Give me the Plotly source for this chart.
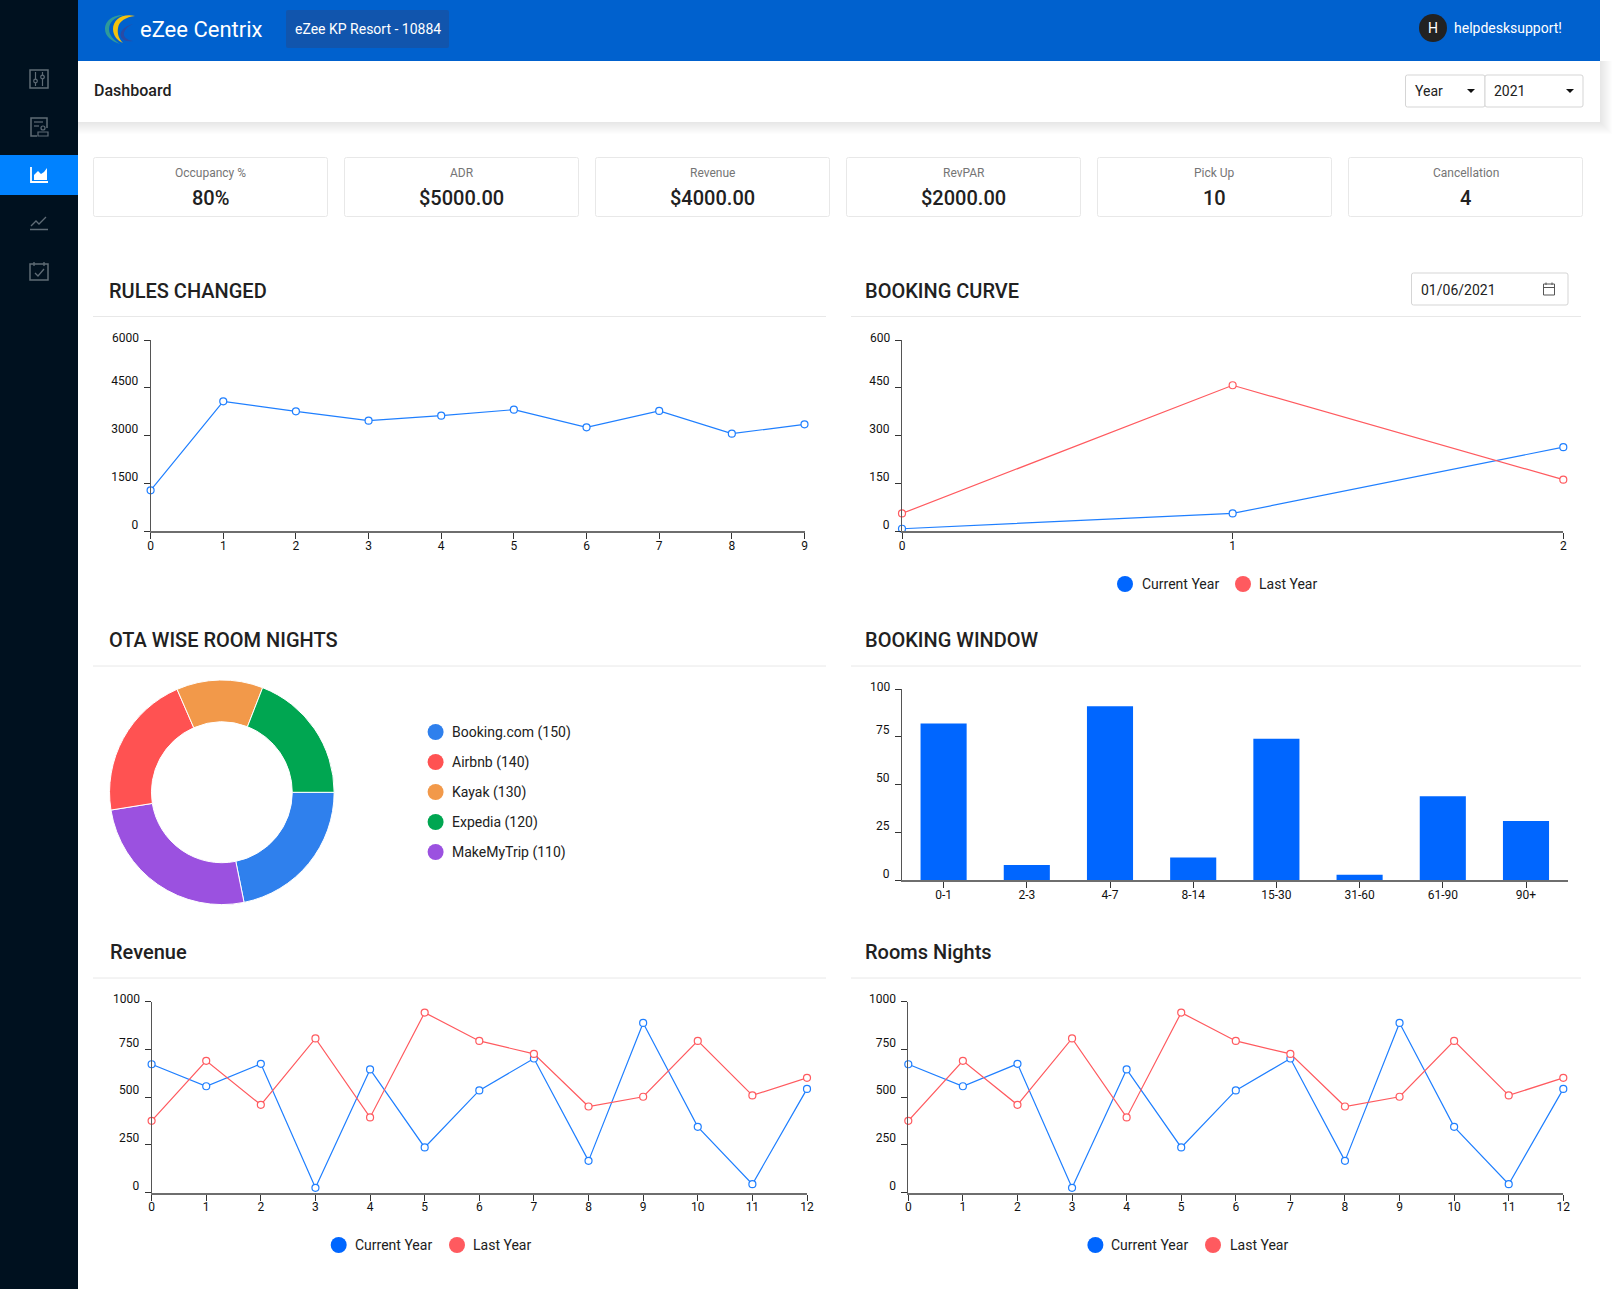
import plotly.graph_objects as go

W = 1612
H = 1289

# chart data
rules_x = [0, 1, 2, 3, 4, 5, 6, 7, 8, 9]
rules_y = [1286, 4077, 3763, 3470, 3627, 3815, 3261, 3774, 3063, 3355]
rules_ticks = [0, 1500, 3000, 4500, 6000]

curve_x = [0, 1, 2]
curve_current = [8, 56, 264]
curve_last = [56, 458, 162]
curve_ticks = [0, 150, 300, 450, 600]

ota_slices = ['Booking.com', 'MakeMyTrip', 'Airbnb', 'Kayak', 'Expedia']
ota_shares = [78.6, 92.3, 75.6, 44.8, 68.7]
ota_slice_colors = ['#2F80ED', '#9B51E0', '#FF5252', '#F2994A', '#00A651']
ota_legend = ['Booking.com (150)', 'Airbnb (140)', 'Kayak (130)', 'Expedia (120)', 'MakeMyTrip (110)']
ota_legend_colors = ['#2F80ED', '#FF5252', '#F2994A', '#00A651', '#9B51E0']

window_cats = ['0-1', '2-3', '4-7', '8-14', '15-30', '31-60', '61-90', '90+']
window_vals = [82, 8, 91, 12, 74, 3, 44, 31]
window_ticks = [0, 25, 50, 75, 100]

months = [0, 1, 2, 3, 4, 5, 6, 7, 8, 9, 10, 11, 12]
revenue_current = [672, 557, 674, 26, 645, 237, 535, 702, 167, 888, 345, 45, 543]
revenue_last = [376, 690, 460, 807, 394, 942, 794, 726, 451, 502, 794, 509, 601]
nights_current = [672, 557, 674, 26, 645, 237, 535, 702, 167, 888, 345, 45, 543]
nights_last = [376, 690, 460, 807, 394, 942, 794, 726, 451, 502, 794, 509, 601]
month_ticks = [0, 250, 500, 750, 1000]

card_labels = ['Occupancy %', 'ADR', 'Revenue', 'RevPAR', 'Pick Up', 'Cancellation']
card_values = ['80%', '$5000.00', '$4000.00', '$2000.00', '10', '4']

BLUE = '#1F7FFF'
RED = '#FF5A5F'
TEXT = '#212121'
ICON = '#5F6C76'
FONT = 'Roboto'

shapes = []
annotations = []
traces = []
axes = {}


def rect(x0, y0, x1, y1, fill=None, line=None, lw=1, **kw):
    shapes.append(dict(type='rect', xref='x7', yref='y7', x0=x0, y0=y0, x1=x1, y1=y1,
                       fillcolor=fill or 'rgba(0,0,0,0)', line=dict(color=line or 'rgba(0,0,0,0)', width=lw if line else 0), **kw))


def round_rect(x0, y0, x1, y1, r=2, fill='#ffffff', line='#E8E8E8', lw=1):
    p = (f'M {x0+r},{y0} L {x1-r},{y0} Q {x1},{y0} {x1},{y0+r} L {x1},{y1-r} Q {x1},{y1} {x1-r},{y1} '
         f'L {x0+r},{y1} Q {x0},{y1} {x0},{y1-r} L {x0},{y0+r} Q {x0},{y0} {x0+r},{y0} Z')
    path(p, fill=fill, line=line, lw=lw)


def path(p, fill=None, line=None, lw=1):
    shapes.append(dict(type='path', xref='x7', yref='y7', path=p, fillcolor=fill or 'rgba(0,0,0,0)',
                       line=dict(color=line or 'rgba(0,0,0,0)', width=lw if line else 0)))


def seg(x0, y0, x1, y1, color, lw=1):
    shapes.append(dict(type='line', xref='x7', yref='y7', x0=x0, y0=y0, x1=x1, y1=y1, line=dict(color=color, width=lw)))


def dot(cx, cy, r, fill, line=None, lw=0):
    shapes.append(dict(type='circle', xref='x7', yref='y7', x0=cx-r, y0=cy-r, x1=cx+r, y1=cy+r, fillcolor=fill,
                       line=dict(color=line or fill, width=lw)))


def text(x, y, s, size=14, color=TEXT, anchor='left', weight=400):
    annotations.append(dict(xref='x7', yref='y7', x=x, y=y, text=s, showarrow=False, xanchor=anchor, yanchor='middle',
                            borderpad=0, borderwidth=0, font=dict(family=FONT, size=size, color=color, weight=weight)))


def add_axes(n, x_left, x_right, y_top, y_base, x_range, y_ticks, x_ticks, x_text=None):
    suffix = '' if n == 1 else str(n)
    axes['xaxis' + suffix] = dict(
        domain=[x_left / W, x_right / W], range=x_range, anchor='y' + suffix, tickmode='array',
        tickvals=x_ticks, ticktext=x_text or [str(v) for v in x_ticks], showgrid=False, zeroline=False,
        showline=True, linecolor='#6E6E6E', linewidth=2, ticks='outside', ticklen=6, tickcolor='#333333', tickwidth=1,
        tickfont=dict(family=FONT, size=12, color='#111111'), ticklabelstandoff=-4, fixedrange=True)
    # the top label sits closer to its tick than the rest, so it goes in separately
    labels = [str(v) for v in y_ticks[:-1]] + ['']
    axes['yaxis' + suffix] = dict(
        domain=[1 - y_base / H, 1 - y_top / H], range=[0, y_ticks[-1]], anchor='x' + suffix, tickmode='array',
        tickvals=y_ticks, ticktext=labels, showgrid=False, zeroline=False,
        showline=True, linecolor='#555555', linewidth=1, ticks='outside', ticklen=6, tickcolor='#333333', tickwidth=1,
        tickfont=dict(family=FONT, size=12, color='#111111'), ticklabelshift=-7, ticklabelstandoff=3, fixedrange=True)
    text(x_left - 12, y_top - 2.5, str(y_ticks[-1]), size=12, color='#111111', anchor='right')


def line_trace(n, x, y, color):
    suffix = '' if n == 1 else str(n)
    traces.append(go.Scatter(
        x=x, y=y, mode='lines+markers', xaxis='x' + suffix, yaxis='y' + suffix, cliponaxis=False, showlegend=False,
        line=dict(color=color, width=1.2),
        marker=dict(size=7, color='#ffffff', line=dict(color=color, width=1.2))))


def legend_pair(c1, t1, c2, t2, y):
    dot(c1, y, 8, '#0066FF')
    text(t1, y, 'Current Year')
    dot(c2, y, 8, RED)
    text(t2, y, 'Last Year')


# --- page chrome ---
for i in range(1, 13):
    rect(78, 61, 1600 + i, 122 + i, fill='#000000', opacity=0.008)
rect(78, 61, 1600, 122, fill='#ffffff')
rect(78, 0, 1600, 61, fill='#0061CE')
rect(0, 0, 78, H, fill='#00111F')
rect(0, 155, 78, 195, fill='#0082FF')
round_rect(286, 10, 449, 48, r=2, fill='#1155AD', line=None, lw=0)

# logo
path('M 124,15 C 110,15 105,23 105,29 C 105,36 111,41 120,44 C 113,39 109,35 109,29 C 109,23 114,17 124,15 Z', fill='#2E9A9A')
path('M 135,16 C 122,13 113,20 113,29 C 113,36 118,41 123,43 C 119,39 117,34 118,28 C 119,21 126,17 135,16 Z', fill='#F4C20D')
path('M 133,24 C 124,26 119,32 121,37 C 123,41 128,42 133,41 C 127,40 123,37 124,33 C 125,29 128,26 133,24 Z', fill='#2A4BA5')
text(140, 29, 'eZee Centrix', size=22, color='#ffffff')
text(295, 29, 'eZee KP Resort - 10884', size=14, color='#ffffff')
dot(1433, 28, 14, '#222222')
text(1433, 28, 'H', size=14, color='#ffffff', anchor='center')
text(1454, 28, 'helpdesksupport!', size=14, color='#ffffff')

text(94, 90, 'Dashboard', size=16, weight=500)
round_rect(1405.5, 75, 1485, 107, line='#D5D5D5')
round_rect(1485, 75, 1583, 107, line='#D5D5D5')
text(1415, 91, 'Year', size=14)
text(1494, 91, '2021', size=14)
path('M 1467,89 L 1475,89 L 1471,93 Z', fill='#111111')
path('M 1566,89 L 1574,89 L 1570,93 Z', fill='#111111')

# sidebar icons
rect(30, 70, 48, 88, line=ICON, lw=1.5)
for sx, sy in [(35.5, 81), (42.5, 77)]:
    seg(sx, 72, sx, 86, ICON, 1.2)
    dot(sx, sy, 1.8, '#00111F', ICON, 1.2)
path('M 47,128 L 47,118 L 31,118 L 31,136 L 37,136', line=ICON, lw=1.5)
seg(34, 122, 43, 122, ICON, 1.2)
seg(34, 126, 39, 126, ICON, 1.2)
dot(43, 128, 2, '#00111F', ICON, 1.2)
rect(38, 132, 48, 136, line=ICON, lw=1.2)
path('M 31,167 L 31,182 L 48,182', line='#ffffff', lw=1.8)
path('M 34,180 L 34,175 L 38,171 L 41,174 L 44,172 L 47,168 L 47,180 Z', fill='#ffffff')
path('M 31,226 L 36,221 L 39,224 L 46,217', line=ICON, lw=1.3)
seg(30, 229.5, 48, 229.5, ICON, 1.5)
rect(30, 264, 48, 280, line=ICON, lw=1.5)
seg(34, 262, 34, 266, ICON, 1.3)
seg(44, 262, 44, 266, ICON, 1.3)
path('M 35,273 L 38,276 L 44,269', line=ICON, lw=1.3)

# KPI cards
for i, (lab, val) in enumerate(zip(card_labels, card_values)):
    x0 = 93.5 + 251 * i
    round_rect(x0, 157.5, x0 + 234, 216.5)
    text(x0 + 117, 173, lab, size=12, color='#757575', anchor='center')
    text(x0 + 117, 198, val, size=20, anchor='center', weight=500)

# section headers
for x0, x1, tx, y, sep, title in [
    (93, 826, 109, 290.5, 316.5, 'RULES CHANGED'), (851, 1581, 865, 290.5, 316.5, 'BOOKING CURVE'),
    (93, 826, 109, 640, 666, 'OTA WISE ROOM NIGHTS'), (851, 1581, 865, 640, 666, 'BOOKING WINDOW'),
    (93, 826, 110, 952, 978, 'Revenue'), (851, 1581, 865, 952, 978, 'Rooms Nights'),
]:
    text(tx, y, title, size=20, weight=500)
    seg(x0, sep, x1, sep, '#E8E8E8', 1)

round_rect(1411.5, 273, 1568, 305, line='#D5D5D5')
text(1421, 289.5, '01/06/2021', size=14)
rect(1543.5, 284, 1554.5, 295, line='#555555', lw=1)
seg(1543.5, 287.5, 1554.5, 287.5, '#555555', 1)
seg(1546, 282.5, 1546, 285, '#555555', 1)
seg(1552, 282.5, 1552, 285, '#555555', 1)

# --- charts ---
add_axes(1, 150.6, 804.5, 340, 531.3, [0, 9], rules_ticks, rules_x)
line_trace(1, rules_x, rules_y, BLUE)

add_axes(2, 902, 1563.3, 340, 531.3, [0, 2], curve_ticks, curve_x)
line_trace(2, curve_x, curve_current, BLUE)
line_trace(2, curve_x, curve_last, RED)
legend_pair(1125, 1141.5, 1243, 1259, 584)

traces.append(go.Pie(
    labels=ota_slices, values=ota_shares, hole=0.627, sort=False, direction='clockwise', rotation=90,
    textinfo='none', showlegend=False, marker=dict(colors=ota_slice_colors, line=dict(color='#ffffff', width=1)),
    domain=dict(x=[109.4 / W, 334.3 / W], y=[1 - 904.6 / H, 1 - 680 / H])))
for i, (lab, col) in enumerate(zip(ota_legend, ota_legend_colors)):
    dot(435.6, 732 + 30 * i, 8, col)
    text(452, 732 + 30 * i, lab)

add_axes(3, 902, 1567.6, 689, 880.4, [-0.5, 7.5], window_ticks, list(range(len(window_cats))), window_cats)
traces.append(go.Bar(x=list(range(len(window_cats))), y=window_vals, xaxis='x3', yaxis='y3', width=0.554,
                     marker=dict(color='#0066FF', line=dict(width=0)), showlegend=False))

add_axes(4, 151.6, 807, 1001.5, 1192.8, [0, 12], month_ticks, months)
line_trace(4, months, revenue_current, BLUE)
line_trace(4, months, revenue_last, RED)
legend_pair(338.7, 355, 457, 473, 1245)

add_axes(5, 908.3, 1563.3, 1001.5, 1192.8, [0, 12], month_ticks, months)
line_trace(5, months, nights_current, BLUE)
line_trace(5, months, nights_last, RED)
legend_pair(1095.4, 1111.4, 1213, 1229.5, 1245)

# full page overlay axis, 1 unit = 1 px, for everything that is not a chart
axes['xaxis7'] = dict(domain=[0, 1], range=[0, W], visible=False, anchor='y7', fixedrange=True)
axes['yaxis7'] = dict(domain=[0, 1], range=[H, 0], visible=False, anchor='x7', fixedrange=True)
traces.append(go.Scatter(x=[0], y=[0], xaxis='x7', yaxis='y7', mode='none', showlegend=False, hoverinfo='skip'))

fig = go.Figure(data=traces)
fig.update_layout(
    width=W, height=H, margin=dict(l=0, r=0, t=0, b=0, autoexpand=False), paper_bgcolor='#ffffff', plot_bgcolor='rgba(0,0,0,0)',
    showlegend=False, font=dict(family=FONT), shapes=shapes, annotations=annotations, **axes)

# pin the plot to the window corner, the default page has a body margin
pin = """
document.documentElement.style.margin='0';
document.documentElement.style.overflow='hidden';
document.body.style.margin='0';
document.body.style.overflow='hidden';
var gd=document.querySelector('.plotly-graph-div');
gd.style.position='fixed';gd.style.left='0';gd.style.top='0';gd.style.margin='0';
gd.style.width='1612px';gd.style.height='1289px';
"""
fig.write_html("out.html", config={'displayModeBar': False}, post_script=pin)
